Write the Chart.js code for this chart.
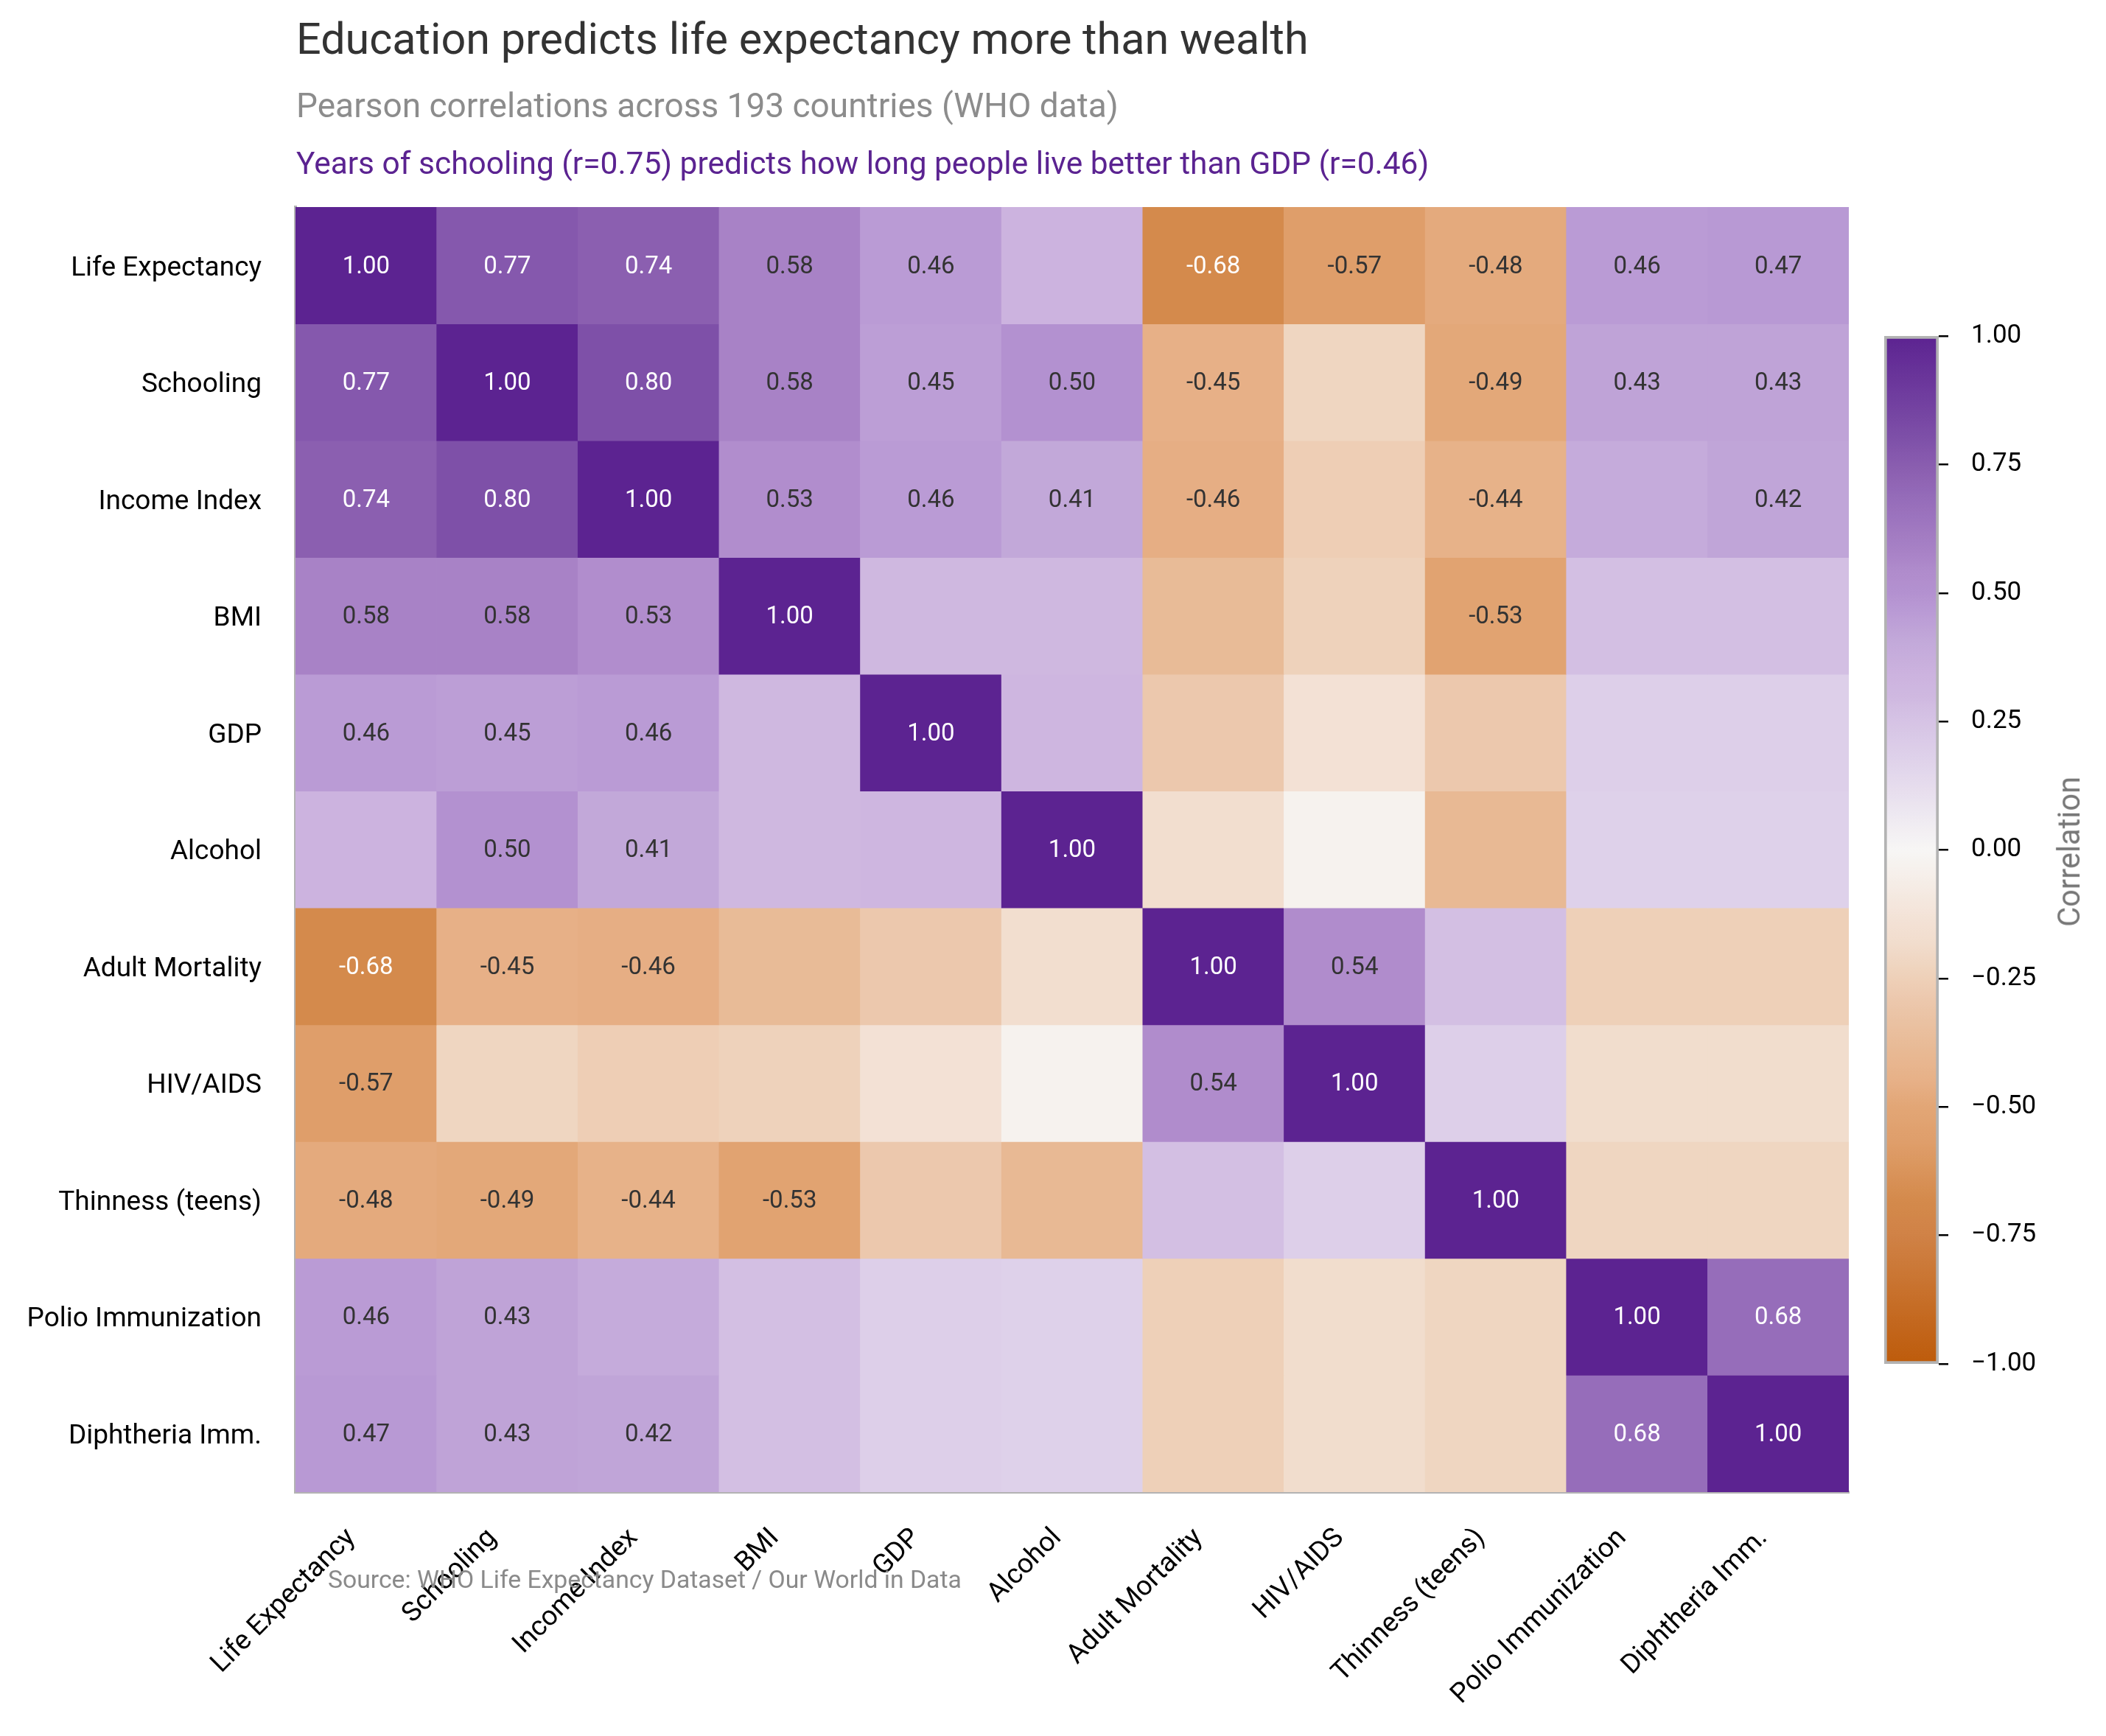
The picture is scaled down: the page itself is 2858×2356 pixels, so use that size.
<!DOCTYPE html>
<html>
<head>
<meta charset="utf-8">
<script src="https://cdn.jsdelivr.net/npm/chart.js@4.4.1/dist/chart.umd.min.js"></script>
<style>
  html, body { margin: 0; padding: 0; background: #ffffff; }
  #wrap { position: relative; width: 2858px; height: 2356px; overflow: hidden; background: #ffffff; }
  canvas { position: absolute; top: 0; }
  .txt { position: absolute; white-space: nowrap; line-height: 1; font-family: Roboto, "Noto Sans", sans-serif; }
</style>
</head>
<body>
<div id="wrap">
  <canvas id="heat" width="2858" height="2356" style="left:0px"></canvas>
  <canvas id="cbar" width="358" height="2356" style="left:2500px"></canvas>
  <div id="title" class="txt" style="color:#333333">Education predicts life expectancy more than wealth</div>
  <div id="subtitle" class="txt" style="color:#8c8c8c">Pearson correlations across 193 countries (WHO data)</div>
  <div id="annot" class="txt" style="color:#5b2391">Years of schooling (r=0.75) predicts how long people live better than GDP (r=0.46)</div>
  <div id="source" class="txt" style="color:#8a8a8a">Source: WHO Life Expectancy Dataset / Our World in Data</div>
  <div id="cblabel" class="txt" style="color:#777777">Correlation</div>
</div>
<script>
// ---------------- DATA ----------------
const variables = ["Life Expectancy", "Schooling", "Income Index", "BMI", "GDP", "Alcohol",
  "Adult Mortality", "HIV/AIDS", "Thinness (teens)", "Polio Immunization", "Diphtheria Imm."];

const rowLifeExpectancy = [1.00, 0.77, 0.74, 0.58, 0.46, 0.34, -0.68, -0.57, -0.48, 0.46, 0.47];
const rowSchooling      = [0.77, 1.00, 0.80, 0.58, 0.45, 0.50, -0.45, -0.22, -0.49, 0.43, 0.43];
const rowIncomeIndex    = [0.74, 0.80, 1.00, 0.53, 0.46, 0.41, -0.46, -0.26, -0.44, 0.39, 0.42];
const rowBMI            = [0.58, 0.58, 0.53, 1.00, 0.30, 0.30, -0.38, -0.24, -0.53, 0.27, 0.27];
const rowGDP            = [0.46, 0.45, 0.46, 0.30, 1.00, 0.32, -0.29, -0.14, -0.29, 0.19, 0.19];
const rowAlcohol        = [0.34, 0.50, 0.41, 0.30, 0.32, 1.00, -0.17, -0.03, -0.39, 0.18, 0.18];
const rowAdultMortality = [-0.68, -0.45, -0.46, -0.38, -0.29, -0.17, 1.00, 0.54, 0.27, -0.25, -0.25];
const rowHIV            = [-0.57, -0.22, -0.26, -0.24, -0.14, -0.03, 0.54, 1.00, 0.19, -0.18, -0.18];
const rowThinness       = [-0.48, -0.49, -0.44, -0.53, -0.29, -0.39, 0.27, 0.19, 1.00, -0.22, -0.22];
const rowPolio          = [0.46, 0.43, 0.39, 0.27, 0.19, 0.18, -0.25, -0.18, -0.22, 1.00, 0.68];
const rowDiphtheria     = [0.47, 0.43, 0.42, 0.27, 0.19, 0.18, -0.25, -0.18, -0.22, 0.68, 1.00];

const colorbarTicks = [-1.00, -0.75, -0.50, -0.25, 0.00, 0.25, 0.50, 0.75, 1.00];

const corrMatrix = [rowLifeExpectancy, rowSchooling, rowIncomeIndex, rowBMI, rowGDP, rowAlcohol,
  rowAdultMortality, rowHIV, rowThinness, rowPolio, rowDiphtheria];

// ---------------- STYLE ----------------
const FONT = "Roboto";
const CMAP = [
  [-1.00, "#bd5b0b"], [-0.75, "#d08246"], [-0.68, "#d48a4c"], [-0.57, "#df9e6a"],
  [-0.50, "#e2a676"], [-0.45, "#e7b087"], [-0.39, "#e8b994"], [-0.29, "#ecc8ad"],
  [-0.25, "#eed0b8"], [-0.18, "#f1ddcd"], [-0.14, "#f3e1d5"], [0.00, "#f7f6f5"],
  [0.19, "#ddcfe9"], [0.27, "#d3bfe3"], [0.30, "#cfb8e0"], [0.34, "#ccb3df"],
  [0.41, "#c2a8d9"], [0.46, "#ba9bd5"], [0.50, "#b391d0"], [0.54, "#b08ccc"],
  [0.58, "#a882c6"], [0.68, "#966dba"], [0.74, "#8b5fb0"], [0.77, "#8558ad"],
  [0.80, "#7e50a8"], [1.00, "#5c2391"]
];
function hex2rgb(h) { return [parseInt(h.slice(1,3),16), parseInt(h.slice(3,5),16), parseInt(h.slice(5,7),16)]; }
function colorFor(v) {
  if (v <= CMAP[0][0]) return CMAP[0][1];
  for (let k = 1; k < CMAP.length; k++) {
    if (v <= CMAP[k][0]) {
      const [v0, c0] = CMAP[k-1], [v1, c1] = CMAP[k];
      const t = (v - v0) / (v1 - v0);
      const a = hex2rgb(c0), b = hex2rgb(c1);
      const c = a.map((x, i) => Math.round(x + (b[i] - x) * t));
      return `rgb(${c[0]},${c[1]},${c[2]})`;
    }
  }
  return CMAP[CMAP.length-1][1];
}
function fmtTick(v) {
  if (Math.abs(v) < 1e-9) return "0.00";
  return (v < 0 ? "\u2212" : "") + Math.abs(v).toFixed(2);
}

// ---------------- HTML TEXT PLACEMENT ----------------
const mctx = document.createElement("canvas").getContext("2d");
function fitSize(text, target, base) {
  mctx.font = `${base}px ${FONT}`;
  return base * target / mctx.measureText(text).width;
}
function place(id, x, baseline, targetW, base) {
  const el = document.getElementById(id);
  const fs = fitSize(el.textContent, targetW, base);
  mctx.font = `${fs}px ${FONT}`;
  const m = mctx.measureText(el.textContent);
  const A = m.fontBoundingBoxAscent, D = m.fontBoundingBoxDescent;
  el.style.fontSize = fs + "px";
  el.style.left = x + "px";
  el.style.top = (baseline - ((fs - (A + D)) / 2 + A)) + "px";
}
function placeRotated(id, cx, cy, targetLen, base) {
  const el = document.getElementById(id);
  const fs = fitSize(el.textContent, targetLen, base);
  el.style.fontSize = fs + "px";
  el.style.left = (cx - targetLen / 2) + "px";
  el.style.top = (cy - fs / 2) + "px";
  el.style.width = targetLen + "px";
  el.style.transformOrigin = "50% 50%";
  el.style.transform = "rotate(-90deg)";
}

// ---------------- PLUGINS ----------------
const cellLabels = {
  id: "cellLabels",
  afterDatasetsDraw(chart) {
    const ctx = chart.ctx;
    ctx.save();
    ctx.font = `33px ${FONT}`;
    ctx.textAlign = "center";
    ctx.textBaseline = "middle";
    chart.data.datasets.forEach((ds, i) => {
      const meta = chart.getDatasetMeta(i);
      meta.data.forEach((bar, j) => {
        const v = corrMatrix[i][j];
        if (Math.abs(v) < 0.4) return;
        const p = bar.getProps(["x", "y", "base"], true);
        ctx.fillStyle = Math.abs(v) >= 0.6 ? "#ffffff" : "#333333";
        ctx.fillText(v.toFixed(2), p.x, (p.y + p.base) / 2 + 2);
      });
    });
    ctx.restore();
  }
};

function build() {
  place("title", 402, 73, 1374, 58);
  place("subtitle", 402, 159, 1116, 44);
  place("annot", 402, 237, 1538, 39);
  place("source", 445, 2155, 860, 30);
  placeRotated("cblabel", 2808, 1156, 204, 37);

  // ---- Heatmap ----
  new Chart(document.getElementById("heat"), {
    type: "bar",
    data: {
      labels: variables,
      datasets: corrMatrix.map((row, i) => ({
        label: variables[i],
        data: row.map(() => 1),
        backgroundColor: row.map(v => colorFor(v)),
        borderWidth: 0,
        barPercentage: 1,
        categoryPercentage: 1
      }))
    },
    options: {
      responsive: false,
      animation: false,
      layout: { padding: { left: 0, top: 281, right: 349, bottom: 0 } },
      plugins: { legend: { display: false }, tooltip: { enabled: false }, title: { display: false } },
      scales: {
        x: {
          stacked: true,
          grid: { display: false, drawTicks: false },
          border: { display: true, color: "#b3b3b3", width: 4 },
          ticks: {
            font: { family: FONT, size: 37 }, color: "#000000",
            minRotation: 45, maxRotation: 45, autoSkip: false,
            padding: 41, labelOffset: -20
          },
          afterFit: s => { s.height = 331; }
        },
        y: {
          type: "linear", stacked: true, min: 0, max: variables.length, reverse: true,
          grid: { display: false, drawTicks: false },
          border: { display: true, color: "#b3b3b3", width: 4 },
          afterBuildTicks: s => { s.ticks = variables.map((_, i) => ({ value: i + 0.5 })); },
          ticks: {
            font: { family: FONT, size: 37 }, color: "#000000", padding: 46, autoSkip: false,
            labelOffset: 4,
            callback: v => variables[Math.floor(v)]
          },
          afterFit: s => { s.width = 401; }
        }
      }
    },
    plugins: [cellLabels]
  });

  // ---- Colorbar ----
  new Chart(document.getElementById("cbar"), {
    type: "bar",
    data: {
      labels: [""],
      datasets: [{
        data: [[-1, 1]],
        backgroundColor: c => {
          const chart = c.chart;
          if (!chart.chartArea) return "#cccccc";
          const y = chart.scales.y;
          const g = chart.ctx.createLinearGradient(0, y.getPixelForValue(-1), 0, y.getPixelForValue(1));
          for (let k = 0; k <= 200; k++) {
            const v = -1 + k * 0.01;
            g.addColorStop(k / 200, colorFor(v));
          }
          return g;
        },
        borderColor: "#b3b3b3",
        borderWidth: 4,
        borderSkipped: false,
        barPercentage: 1,
        categoryPercentage: 1
      }]
    },
    options: {
      responsive: false,
      animation: false,
      layout: { padding: { left: 57, top: 456, right: 0, bottom: 505 } },
      plugins: { legend: { display: false }, tooltip: { enabled: false } },
      scales: {
        x: { display: false },
        y: {
          position: "right", min: -1, max: 1,
          grid: { display: true, drawOnChartArea: false, drawTicks: true, tickLength: 13, color: "#000000", lineWidth: 2.5 },
          border: { display: false },
          afterBuildTicks: s => { s.ticks = colorbarTicks.map(v => ({ value: v })); },
          ticks: {
            font: { family: FONT, size: 35 }, color: "#000000", padding: 31,
            callback: v => fmtTick(v)
          },
          afterFit: s => { s.width = 227; }
        }
      }
    }
  });
}

const loads = [document.fonts.load(`37px ${FONT}`), document.fonts.load(`33px ${FONT}`)];
Promise.all(loads).then(build, build);
</script>
</body>
</html>
